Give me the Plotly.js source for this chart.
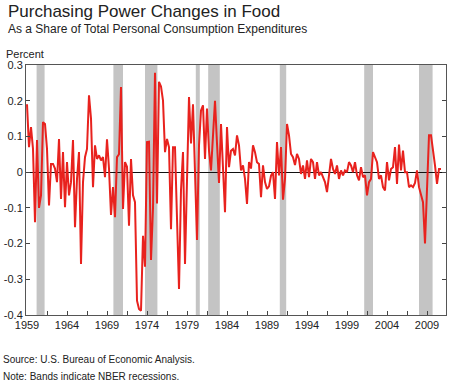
<!DOCTYPE html>
<html>
<head>
<meta charset="utf-8">
<script src="https://cdn.plot.ly/plotly-3.0.1.min.js"></script>
<style>
  html, body { margin: 0; padding: 0; background: #fff; }
  #chart { width: 450px; height: 382px; }
</style>
</head>
<body>
<div id="chart"></div>
<script>
// Quarterly series, starting 1959 Q1 (percent)
const startYear = 1959;
const values = [
  0.19, 0.07, 0.126, 0.065, -0.14, 0.09, -0.10, -0.065, 0.14, 0.135,
  0.065, -0.093, 0.023, 0.023, 0.01, -0.028, 0.093, -0.075, 0.056, -0.098,
  0.028, -0.065, -0.028, 0.09, -0.154, -0.019, 0.056, -0.257, -0.028, 0.042,
  0.065, 0.215, 0.15, -0.042, 0.075, 0.037, 0.047, 0.033, 0.042, -0.014,
  0.092, 0.01, -0.12, -0.042, -0.126, 0.042, 0.05, 0.238, -0.103, 0.028,
  0.015, -0.15, 0.037, -0.065, -0.084, -0.36, -0.383, -0.388, -0.178, -0.265,
  0.084, 0.085, -0.246, -0.1, 0.278, -0.088, 0.253, 0.24, 0.2, 0.056,
  0.093, 0.07, -0.16, 0.07, 0.07, -0.1, -0.327, -0.05, 0.056, -0.257,
  -0.05, 0.21, 0.08, 0.19, 0.0, -0.19, 0.075, 0.173, 0.187, 0.037,
  0.178, 0.06, 0.005, 0.12, 0.2, 0.08, -0.03, 0.135, 0.02, -0.112,
  0.126, 0.014, 0.06, 0.065, 0.047, 0.103, 0.075, 0.005, 0.019, -0.019,
  -0.089, 0.028, 0.01, 0.075, 0.056, 0.028, 0.023, -0.07, 0.019, -0.028,
  -0.047, -0.04, -0.01, 0.0, -0.075, 0.084, -0.009, 0.07, -0.077, -0.019,
  0.135, 0.103, 0.051, 0.042, 0.02, 0.051, 0.037, -0.005, 0.019, -0.019,
  0.033, -0.014, 0.037, 0.028, -0.019, 0.028, -0.009, 0.0, -0.014, -0.028,
  -0.056, 0.0, 0.037, 0.009, -0.005, 0.019, -0.019, 0.005, -0.009, 0.005,
  0.0, 0.028, 0.019, 0.0, 0.028, -0.009, -0.023, 0.014, -0.014, -0.009,
  -0.065, -0.028, -0.019, 0.056, 0.042, 0.028, -0.019, -0.009, -0.042, -0.051,
  0.028, -0.023, 0.009, 0.014, 0.07, -0.033, 0.077, 0.005, 0.06, 0.0,
  0.0, -0.042, -0.037, -0.042, -0.03, 0.005, -0.042, -0.065, -0.084, -0.2,
  -0.05, 0.103, 0.103, 0.065, 0.019, -0.033, 0.009, 0.009
];

// NBER recession bands (decimal years)
const recessionStart = [1960.2, 1969.8, 1973.75, 1980.1, 1981.65, 1990.6, 2001.15, 2008.0];
const recessionEnd   = [1961.2, 1971.0, 1975.3, 1980.6, 1983.1, 1991.4, 2002.25, 2009.7];

// Axis ticks
const tickYears = [1959, 1961.5, 1964, 1966.5, 1969, 1971.5, 1974, 1976.5, 1979, 1981.5,
                   1984, 1986.5, 1989, 1991.5, 1994, 1996.5, 1999, 2001.5, 2004, 2006.5, 2009, 2011.5];
const tickLabels = ["1959", "", "1964", "", "1969", "", "1974", "", "1979", "",
                    "1984", "", "1989", "", "1994", "", "1999", "", "2004", "", "2009", ""];
const yTicks = [0.3, 0.2, 0.1, 0, -0.1, -0.2, -0.3, -0.4];
const yTickLabels = ["0.3", "0.2", "0.1", "0", "-0.1", "-0.2", "-0.3", "-0.4"];

const xs = values.map((v, i) => startYear + i / 4);

const FONT = "Liberation Sans, Arial, Helvetica, sans-serif";

const shapes = recessionStart.map((s, k) => ({
  type: "rect", xref: "x", yref: "paper",
  x0: s, x1: recessionEnd[k], y0: 0, y1: 1,
  fillcolor: "#c4c4c4", line: { width: 0 }, layer: "below"
}));

const W = 450, H = 382, L = 26, R = 4, T = 65, B = 67;
const pw = W - L - R, ph = H - T - B;
const px = x => (x - L) / pw;
const py = y => (H - B - y) / ph;

const annotations = [
  { text: "Purchasing Power Changes in Food", x: px(6), y: py(11), size: 17, color: "#222" },
  { text: "As a Share of Total Personal Consumption Expenditures", x: px(6), y: py(29), size: 12, color: "#222" },
  { text: "Percent", x: px(4), y: py(54), size: 11, color: "#222" },
  { text: "Source: U.S. Bureau of Economic Analysis.", x: px(1), y: py(359), size: 10, color: "#222" },
  { text: "Note: Bands indicate NBER recessions.", x: px(1), y: py(376), size: 10, color: "#222" }
].map(a => ({
  text: a.text, xref: "paper", yref: "paper", x: a.x, y: a.y,
  xanchor: "left", yanchor: "middle", showarrow: false,
  font: { family: FONT, size: a.size, color: a.color }
}));

const trace = {
  x: xs, y: values, type: "scatter", mode: "lines",
  line: { color: "#e8221e", width: 2 },
  hoverinfo: "skip"
};

const layout = {
  width: W, height: H,
  margin: { l: L, r: R, t: T, b: B, pad: 0 },
  paper_bgcolor: "#fff", plot_bgcolor: "#fff",
  showlegend: false,
  font: { family: FONT, size: 11, color: "#222" },
  xaxis: {
    range: [1958.875, 2011.375],
    tickmode: "array", tickvals: tickYears, ticktext: tickLabels,
    ticks: "inside", ticklen: 4, tickcolor: "#444", tickwidth: 1,
    showgrid: false, zeroline: false,
    showline: true, linecolor: "#555", linewidth: 1, mirror: true,
    tickfont: { family: FONT, size: 11, color: "#222" }
  },
  yaxis: {
    range: [-0.4, 0.3],
    tickmode: "array", tickvals: yTicks, ticktext: yTickLabels,
    ticks: "inside", ticklen: 4, tickcolor: "#444", tickwidth: 1,
    showgrid: false,
    zeroline: true, zerolinecolor: "#111", zerolinewidth: 1,
    showline: true, linecolor: "#555", linewidth: 1, mirror: "ticks",
    tickfont: { family: FONT, size: 11, color: "#222" }
  },
  shapes: shapes,
  annotations: annotations
};

Plotly.newPlot("chart", [trace], layout, { staticPlot: true, displayModeBar: false });
</script>
</body>
</html>
